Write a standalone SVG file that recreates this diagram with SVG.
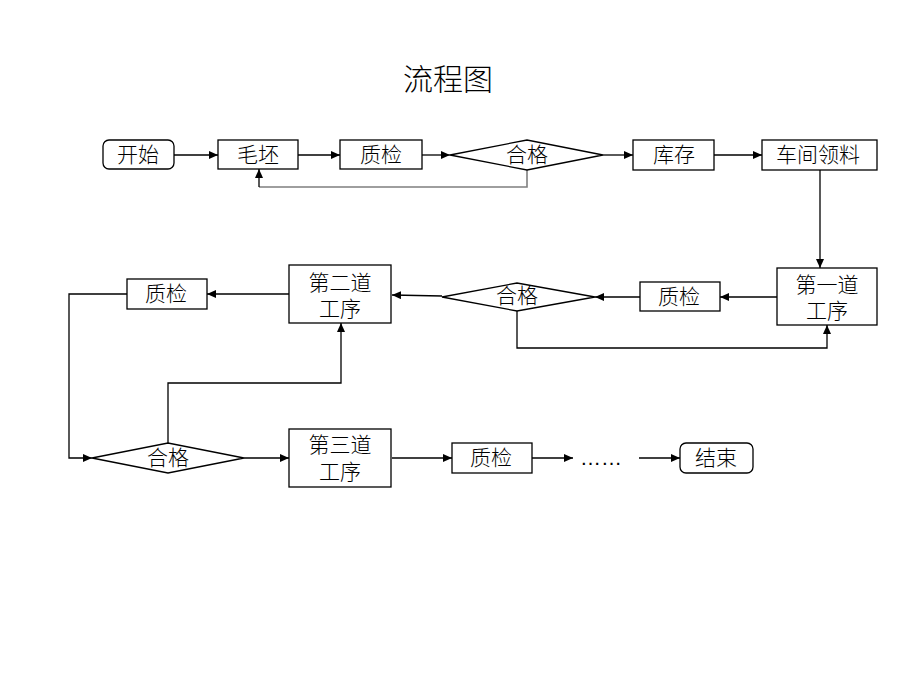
<svg xmlns="http://www.w3.org/2000/svg" width="920" height="690" viewBox="0 0 920 690">
<style>
.box{fill:#fff;stroke:#000;stroke-width:1.3}
.t{font-family:"Liberation Sans","Noto Sans CJK SC",sans-serif;font-size:21px;font-weight:300;fill:#000;text-anchor:middle}
.ttl{font-family:"Liberation Sans","Noto Sans CJK SC",sans-serif;font-size:30px;font-weight:300;fill:#000;text-anchor:middle}
.c{fill:none;stroke:#000;stroke-width:1.3}
.g{fill:none;stroke:#7f7f7f;stroke-width:1.6}
</style>
<defs>
<marker id="ah" markerUnits="userSpaceOnUse" markerWidth="9" markerHeight="8" refX="9" refY="4" orient="auto">
<path d="M0,0 L9,4 L0,8 z" fill="#000"/>
</marker>
</defs>
<rect width="920" height="690" fill="#fff"/>
<text class="ttl" x="448" y="90">流程图</text>
<g id="connectors">
<path class="c" d="M174,155 H218" marker-end="url(#ah)"/>
<path class="c" d="M298,155 H340" marker-end="url(#ah)"/>
<path class="c" d="M422,155 H450" marker-end="url(#ah)"/>
<path class="c" d="M603,155 H633" marker-end="url(#ah)"/>
<path class="c" d="M714,155 H762" marker-end="url(#ah)"/>
<path class="g" d="M527,170 V187 H259"/>
<path class="c" d="M259,187 V169" marker-end="url(#ah)"/>
<path class="c" d="M820,170 V268" marker-end="url(#ah)"/>
<path class="c" d="M777,297 H720" marker-end="url(#ah)"/>
<path class="c" d="M640,297 H595" marker-end="url(#ah)"/>
<path class="c" d="M442,296 L392,295" marker-end="url(#ah)"/>
<path class="c" d="M517,311 V348 H827 V325" marker-end="url(#ah)"/>
<path class="c" d="M289,294 H207" marker-end="url(#ah)"/>
<path class="c" d="M127,294 H69 V458 H92" marker-end="url(#ah)"/>
<path class="c" d="M168,443 V383 H341 V323" marker-end="url(#ah)"/>
<path class="c" d="M244,458 H289" marker-end="url(#ah)"/>
<path class="c" d="M392,458 H452" marker-end="url(#ah)"/>
<path class="c" d="M532,458 H573" marker-end="url(#ah)"/>
<path class="c" d="M639,458 H680" marker-end="url(#ah)"/>
</g>
<g id="start"><rect class="box" x="103" y="140" width="71" height="29" rx="6"/><text class="t" x="138" y="162">开始</text></g>
<g id="maopi"><rect class="box" x="218" y="140" width="80" height="29"/><text class="t" x="258" y="162">毛坯</text></g>
<g id="zhijian1"><rect class="box" x="340" y="140" width="82" height="29"/><text class="t" x="381" y="162">质检</text></g>
<g id="hege1"><polygon class="box" points="450,155 527,140 603,155 527,170"/><text class="t" x="527" y="162">合格</text></g>
<g id="kucun"><rect class="box" x="633" y="140" width="81" height="30"/><text class="t" x="674" y="162">库存</text></g>
<g id="lingliao"><rect class="box" x="762" y="140" width="115" height="30"/><text class="t" x="818" y="162">车间领料</text></g>
<g id="gongxu1"><rect class="box" x="777" y="268" width="100" height="57"/><text class="t" x="827" y="292">第一道</text><text class="t" x="827" y="318">工序</text></g>
<g id="zhijian2"><rect class="box" x="640" y="282" width="80" height="29"/><text class="t" x="679" y="304">质检</text></g>
<g id="hege2"><polygon class="box" points="442,297 517,283 595,297 517,311"/><text class="t" x="517" y="303">合格</text></g>
<g id="gongxu2"><rect class="box" x="289" y="265" width="102" height="58"/><text class="t" x="340" y="290">第二道</text><text class="t" x="340" y="316">工序</text></g>
<g id="zhijian3"><rect class="box" x="127" y="279" width="80" height="30"/><text class="t" x="166" y="301">质检</text></g>
<g id="hege3"><polygon class="box" points="92,458 168,443 244,458 168,473"/><text class="t" x="168" y="465">合格</text></g>
<g id="gongxu3"><rect class="box" x="289" y="429" width="102" height="58"/><text class="t" x="340" y="452">第三道</text><text class="t" x="340" y="479">工序</text></g>
<g id="zhijian4"><rect class="box" x="452" y="443" width="80" height="30"/><text class="t" x="491" y="465">质检</text></g>
<g id="ellipsis"><text class="t" x="601" y="465">……</text></g>
<g id="end"><rect class="box" x="680" y="443" width="73" height="30" rx="6"/><text class="t" x="716" y="465">结束</text></g>
</svg>
